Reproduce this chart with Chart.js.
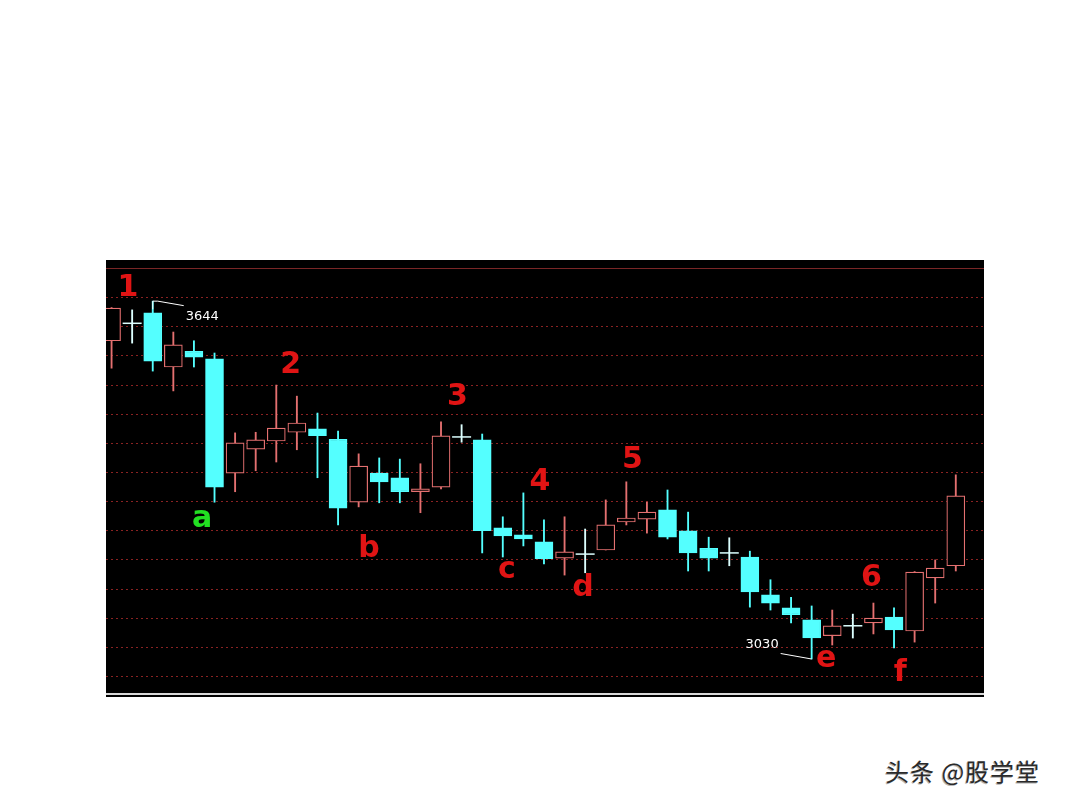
<!DOCTYPE html>
<html>
<head>
<meta charset="utf-8">
<script src="https://cdn.jsdelivr.net/npm/chart.js@4/dist/chart.umd.min.js"></script>
<style>
    body { margin: 0; width: 1080px; height: 810px; background: #fff; position: relative; overflow: hidden; }
    #panel { position: absolute; left: 106px; top: 260px; width: 878px; height: 437px; background: #000; }
    #brand {
        position: absolute; left: 885px; top: 759px;
        font: 24px "Noto Sans CJK SC", sans-serif; letter-spacing: 1px; line-height: 1;
        color: #2a2a2a; text-shadow: -1px 1px 0 #b5b5b5;
    }
</style>
</head>
<body>
<div id="panel"><canvas id="kline" width="878" height="437"></canvas></div>
<div id="brand">头条 @股学堂</div>

<script>
// daily index candles (no dates shown on it)
const sessions = Array.from({ length: 42 }, (_, i) => i);
const openPrices  = [3576, 3606, 3624, 3531, 3558, 3545, 3349, 3390, 3404, 3419, 3425, 3407, 3299, 3349,
                     3341, 3317, 3325, 3411, 3406, 3255, 3243, 3231, 3203, 3210, 3217, 3265, 3270, 3286,
                     3250, 3220, 3212, 3205, 3140, 3118, 3097, 3070, 3087, 3092, 3102, 3078, 3169, 3190];
const highPrices  = [3633, 3629, 3644, 3591, 3576, 3555, 3418, 3419, 3500, 3481, 3452, 3421, 3382, 3375,
                     3373, 3365, 3437, 3432, 3416, 3274, 3315, 3269, 3274, 3253, 3303, 3334, 3299, 3320,
                     3282, 3239, 3238, 3215, 3166, 3136, 3121, 3114, 3107, 3126, 3118, 3180, 3200, 3346];
const lowPrices   = [3529, 3572, 3524, 3490, 3531, 3299, 3317, 3353, 3368, 3389, 3341, 3260, 3291, 3298,
                     3298, 3281, 3322, 3402, 3212, 3205, 3224, 3193, 3174, 3178, 3217, 3260, 3246, 3236,
                     3181, 3181, 3190, 3119, 3114, 3092, 3030, 3054, 3066, 3073, 3049, 3059, 3126, 3181];
const closePrices = [3632, 3606, 3541, 3569, 3548, 3325, 3401, 3406, 3426, 3435, 3413, 3289, 3361, 3334,
                     3317, 3322, 3413, 3411, 3250, 3241, 3236, 3202, 3214, 3210, 3260, 3272, 3282, 3239,
                     3212, 3203, 3212, 3145, 3126, 3106, 3066, 3087, 3087, 3100, 3080, 3179, 3186, 3310];

// horizontal price levels of the dotted grid (no tick text shown)
const gridLevels = [3000, 3050, 3100, 3150, 3200, 3250, 3300, 3350, 3400, 3450, 3500, 3550, 3600, 3650, 3700];

// hand-written wave marks: [text, session, price]
const waveNotes = [
    ['1', 0.8, 3667], ['2', 8.7, 3534], ['3', 16.8, 3480], ['4', 20.8, 3334],
    ['5', 25.3, 3371], ['6', 36.9, 3169],
    ['a', 4.4, 3270], ['b', 12.5, 3219], ['c', 19.2, 3183], ['d', 22.9, 3152],
    ['e', 34.7, 3030], ['f', 38.3, 3006]
];

const UP_COLOR = '#e47070';
const DOWN_COLOR = '#54ffff';
const DOJI_COLOR = '#dcffff';

function candleKind(i) {
    if (openPrices[i] === closePrices[i]) return 'doji';
    return closePrices[i] > openPrices[i] ? 'up' : 'down';
}

function wickColor(i) {
    const kind = candleKind(i);
    if (kind === 'doji') return DOJI_COLOR;
    return kind === 'up' ? UP_COLOR : DOWN_COLOR;
}

const wickData = sessions.map(i => ({ x: i, y: [lowPrices[i], highPrices[i]], i }));
const bodyData = sessions.filter(i => candleKind(i) !== 'doji')
    .map(i => ({ x: i, y: [openPrices[i], closePrices[i]], i }));
const dojiData = sessions.filter(i => candleKind(i) === 'doji')
    .map(i => ({ x: i, y: closePrices[i] }));

// solid top gridline, the white base line, wave marks and extreme prices
const overlayPlugin = {
    id: 'overlay',
    beforeDatasetsDraw(chart) {
        const { ctx, chartArea, scales: { y } } = chart;
        const top = Math.round(y.getPixelForValue(gridLevels[gridLevels.length - 1])) + 0.5;
        ctx.save();
        ctx.strokeStyle = '#7a2626';
        ctx.lineWidth = 1;
        ctx.beginPath();
        ctx.moveTo(chartArea.left, top - 1);
        ctx.lineTo(chartArea.right, top - 1);
        ctx.stroke();
        ctx.strokeStyle = '#d8d8d8';
        ctx.lineWidth = 2;
        ctx.beginPath();
        ctx.moveTo(chartArea.left, chartArea.bottom - 3);
        ctx.lineTo(chartArea.right, chartArea.bottom - 3);
        ctx.stroke();
        ctx.restore();
    },
    afterDatasetsDraw(chart) {
        const { ctx, scales: { x, y } } = chart;
        ctx.save();
        ctx.textAlign = 'center';
        ctx.textBaseline = 'middle';
        ctx.font = 'bold 30px "DejaVu Sans", sans-serif';
        waveNotes.forEach(([text, idx, price]) => {
            ctx.fillStyle = text === 'a' ? '#22e022' : '#e01414';
            ctx.fillText(text, x.getPixelForValue(idx), y.getPixelForValue(price));
        });

        // highest high and lowest low with leader lines
        const hi = highPrices.indexOf(Math.max(...highPrices));
        const lo = lowPrices.indexOf(Math.min(...lowPrices));
        ctx.strokeStyle = '#ffffff';
        ctx.fillStyle = '#ffffff';
        ctx.lineWidth = 1;
        ctx.font = '13px "DejaVu Sans", sans-serif';

        let px = x.getPixelForValue(hi), py = y.getPixelForValue(highPrices[hi]);
        ctx.beginPath();
        ctx.moveTo(px, py + 8);
        ctx.lineTo(px, py);
        ctx.lineTo(px + 5, py);
        ctx.lineTo(px + 31, py + 4.5);
        ctx.stroke();
        ctx.textAlign = 'left';
        ctx.fillText(String(highPrices[hi]), px + 33, py + 15);

        px = x.getPixelForValue(lo);
        py = y.getPixelForValue(lowPrices[lo]);
        ctx.beginPath();
        ctx.moveTo(px, py);
        ctx.lineTo(px - 31, py - 5.5);
        ctx.stroke();
        ctx.textAlign = 'right';
        ctx.fillText(String(lowPrices[lo]), px - 33, py - 14);
        ctx.restore();
    }
};

function setupChart() {
    const ctx = document.getElementById('kline').getContext('2d');
    new Chart(ctx, {
        type: 'bar',
        data: {
            datasets: [
                {
                    label: 'wick',
                    data: wickData,
                    grouped: false,
                    order: 2,
                    barThickness: 1.2,
                    backgroundColor: c => wickColor(c.raw ? c.raw.i : 0),
                    borderWidth: 0
                },
                {
                    label: 'body',
                    data: bodyData,
                    grouped: false,
                    order: 1,
                    barThickness: 18,
                    borderWidth: 1.2,
                    borderSkipped: false,
                    backgroundColor: c => (c.raw && candleKind(c.raw.i) === 'up') ? '#000000' : DOWN_COLOR,
                    borderColor: c => (c.raw && candleKind(c.raw.i) === 'up') ? UP_COLOR : DOWN_COLOR
                },
                {
                    type: 'scatter',
                    label: 'doji',
                    data: dojiData,
                    order: 0,
                    pointStyle: 'line',
                    radius: 9.5,
                    hoverRadius: 9.5,
                    borderWidth: 1.5,
                    borderColor: DOJI_COLOR
                }
            ]
        },
        options: {
            responsive: false,
            animation: false,
            devicePixelRatio: 1,
            layout: { padding: 0, autoPadding: false },
            scales: {
                x: {
                    type: 'linear',
                    min: -0.27,
                    max: 42.37,
                    offset: false,
                    display: false
                },
                y: {
                    min: 2964.8,
                    max: 3714.6,
                    display: true,
                    afterBuildTicks: scale => {
                        scale.ticks = gridLevels.map(v => ({ value: v }));
                    },
                    ticks: { display: false },
                    grid: { color: '#8a2222', lineWidth: 1, drawTicks: false },
                    border: { display: false, dash: [2, 3] }
                }
            },
            plugins: {
                legend: { display: false },
                tooltip: { enabled: false }
            }
        },
        plugins: [overlayPlugin]
    });
}

setupChart();
</script>
</body>
</html>
